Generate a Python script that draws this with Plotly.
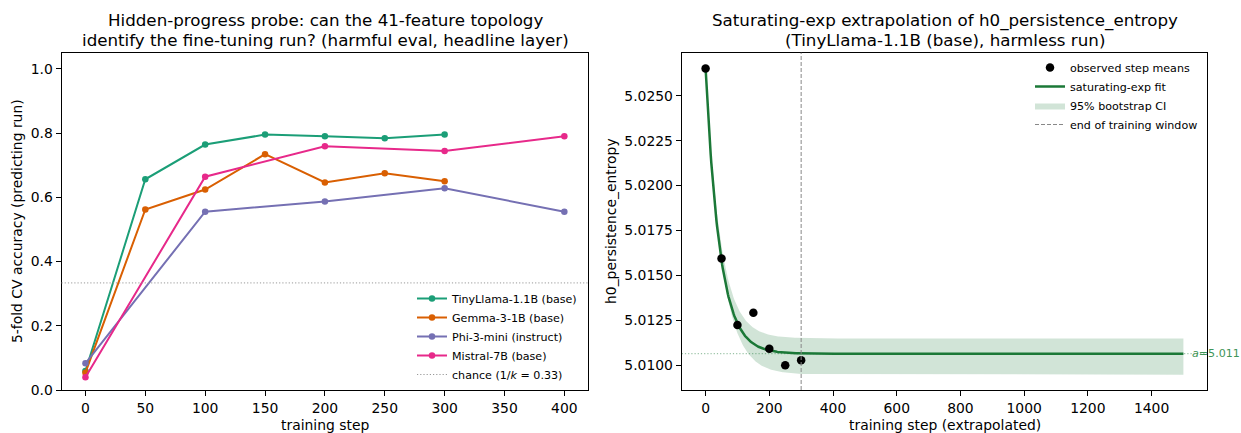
import numpy as np
import plotly.graph_objects as go

# ---------------- data: left panel ----------------
steps_a = [0, 50, 100, 150, 200, 250, 300]
steps_b = [0, 100, 200, 300, 400]
tinyllama = [0.059, 0.656, 0.764, 0.795, 0.790, 0.784, 0.795]
gemma = [0.054, 0.562, 0.624, 0.734, 0.646, 0.675, 0.650]
phi3 = [0.083, 0.555, 0.587, 0.628, 0.555]
mistral = [0.040, 0.664, 0.759, 0.744, 0.790]
chance = 1 / 3
left_xticks = [0, 50, 100, 150, 200, 250, 300, 350, 400]
left_yticks = [0.0, 0.2, 0.4, 0.6, 0.8, 1.0]

# ---------------- data: right panel ----------------
obs_steps = [0, 50, 100, 150, 200, 250, 300]
obs_means = [5.02652, 5.01594, 5.01223, 5.01291, 5.01091, 5.00998, 5.01026]
fit_a = 5.01063          # asymptote
fit_b = 0.01589          # amplitude
fit_k = 0.0224           # rate
ci_hi_inf, ci_hi_k = 5.01148, 0.0215
ci_lo_inf, ci_lo_k = 5.00946, 0.0200
ci_start = 5.02652
extrap_end = 1500
train_end = 300
right_xticks = [0, 200, 400, 600, 800, 1000, 1200, 1400]
right_yticks = [5.0100, 5.0125, 5.0150, 5.0175, 5.0200, 5.0225, 5.0250]

# fitted model curves evaluated on a grid
xg = np.linspace(0, extrap_end, 751)
fit_y = fit_a + fit_b * np.exp(-fit_k * xg)
ci_hi = ci_hi_inf + (ci_start - ci_hi_inf) * np.exp(-ci_hi_k * xg)
ci_lo = ci_lo_inf + (ci_start - ci_lo_inf) * np.exp(-ci_lo_k * xg)

W, H = 1241, 433
FONT = "DejaVu Sans"
colors = {"TinyLlama-1.1B (base)": "#1b9e77", "Gemma-3-1B (base)": "#d95f02",
          "Phi-3-mini (instruct)": "#7570b3", "Mistral-7B (base)": "#e7298a"}
GREEN = "#1b7837"

fig = go.Figure()

for name, xs, ys in [("TinyLlama-1.1B (base)", steps_a, tinyllama),
                     ("Gemma-3-1B (base)", steps_a, gemma),
                     ("Phi-3-mini (instruct)", steps_b, phi3),
                     ("Mistral-7B (base)", steps_b, mistral)]:
    fig.add_trace(go.Scatter(x=xs, y=ys, mode="lines+markers", name=name,
                             line=dict(color=colors[name], width=2),
                             marker=dict(color=colors[name], size=6.5),
                             xaxis="x", yaxis="y", legend="legend"))

fig.add_shape(type="line", xref="x domain", yref="y", x0=0, x1=1, y0=chance, y1=chance,
              line=dict(color="#999999", width=1, dash="1.2px,2px"),
              showlegend=True, name="chance (1/<i>k</i> = 0.33)", legend="legend")

# right panel
fig.add_trace(go.Scatter(x=np.concatenate([xg, xg[::-1]]),
                         y=np.concatenate([ci_hi, ci_lo[::-1]]),
                         fill="toself", fillcolor="rgba(27,120,55,0.2)",
                         line=dict(width=0, color="rgba(0,0,0,0)"), mode="lines",
                         name="95% bootstrap CI", xaxis="x2", yaxis="y2",
                         legend="legend2", legendrank=3))
fig.add_trace(go.Scatter(x=xg, y=fit_y, mode="lines", name="saturating-exp fit",
                         line=dict(color=GREEN, width=2.5), xaxis="x2", yaxis="y2",
                         legend="legend2", legendrank=2))
fig.add_trace(go.Scatter(x=obs_steps, y=obs_means, mode="markers", name="observed step means",
                         marker=dict(color="black", size=8.5), xaxis="x2", yaxis="y2",
                         legend="legend2", legendrank=1))

fig.add_shape(type="line", xref="x2 domain", yref="y2", x0=0, x1=1, y0=fit_a, y1=fit_a,
              line=dict(color="rgba(27,120,55,0.55)", width=1, dash="1.2px,2px"),
              layer="below")
fig.add_shape(type="line", xref="x2", yref="y2 domain", x0=train_end, x1=train_end, y0=0, y1=1,
              line=dict(color="#888888", width=1, dash="4px,2px"),
              showlegend=True, name="end of training window", legend="legend2", legendrank=4)

fig.add_annotation(x=extrap_end + 20, y=fit_a, xref="x2", yref="y2", text=f"<i>a</i>={fit_a:.3f}",
                   showarrow=False, xanchor="left", yanchor="middle",
                   font=dict(family=FONT, size=11.1, color="#3f9558"))

def px_x(p):
    return p / W

def px_y(p):
    return 1 - p / H

axis_common = dict(showline=True, linecolor="black", linewidth=1, mirror=True,
                   ticks="outside", ticklen=5, tickwidth=1, tickcolor="black",
                   showgrid=False, zeroline=False, automargin=False,
                   tickfont=dict(family=FONT, size=13.9, color="black"))

fig.update_layout(
    template="none",
    width=W, height=H, margin=dict(l=0, r=0, t=0, b=0, pad=0, autoexpand=False),
    paper_bgcolor="white", plot_bgcolor="white",
    font=dict(family=FONT, color="black"),
    xaxis=dict(domain=[px_x(61.5), px_x(588.3)], range=[-20, 420], anchor="y",
               tickvals=left_xticks, **axis_common),
    yaxis=dict(domain=[px_y(390), px_y(52.7)], range=[0, 1.05], anchor="x",
               tickvals=left_yticks, tickformat=".1f", **axis_common),
    xaxis2=dict(domain=[px_x(681.7), px_x(1207.3)], range=[-75, 1575], anchor="y2",
                tickvals=right_xticks, **axis_common),
    yaxis2=dict(domain=[px_y(390), px_y(52.7)], range=[5.008607, 5.027400], anchor="x2",
                tickvals=right_yticks, tickformat=".4f", **axis_common),
    legend=dict(x=px_x(412), y=px_y(284), xanchor="left", yanchor="top",
                bgcolor="rgba(255,255,255,0)", borderwidth=0,
                font=dict(family=FONT, size=11.1, color="black"), itemwidth=30),
    legend2=dict(x=px_x(1030), y=px_y(53), xanchor="left", yanchor="top",
                 bgcolor="rgba(255,255,255,0)", borderwidth=0,
                 font=dict(family=FONT, size=11.1, color="black"), itemwidth=30),
)

ann_font_t = dict(family=FONT, size=16.7, color="black")
ann_font_l = dict(family=FONT, size=13.9, color="black")
for txt, cx, cy in [("Hidden-progress probe: can the 41-feature topology", 325, 20),
                    ("identify the fine-tuning run? (harmful eval, headline layer)", 325, 40),
                    ("Saturating-exp extrapolation of h0_persistence_entropy", 944.5, 20),
                    ("(TinyLlama-1.1B (base), harmless run)", 944.5, 40)]:
    fig.add_annotation(x=px_x(cx), y=px_y(cy), xref="paper", yref="paper", text=txt,
                       showarrow=False, xanchor="center", yanchor="middle", font=ann_font_t)

for txt, cx, cy, ang in [("training step", 325, 425, 0),
                         ("training step (extrapolated)", 944.5, 425, 0),
                         ("5-fold CV accuracy (predicting run)", 17, 221, -90),
                         ("h0_persistence_entropy", 611, 221, -90)]:
    fig.add_annotation(x=px_x(cx), y=px_y(cy), xref="paper", yref="paper", text=txt,
                       showarrow=False, xanchor="center", yanchor="middle", textangle=ang,
                       font=ann_font_l)

fig.write_html("out.html")
